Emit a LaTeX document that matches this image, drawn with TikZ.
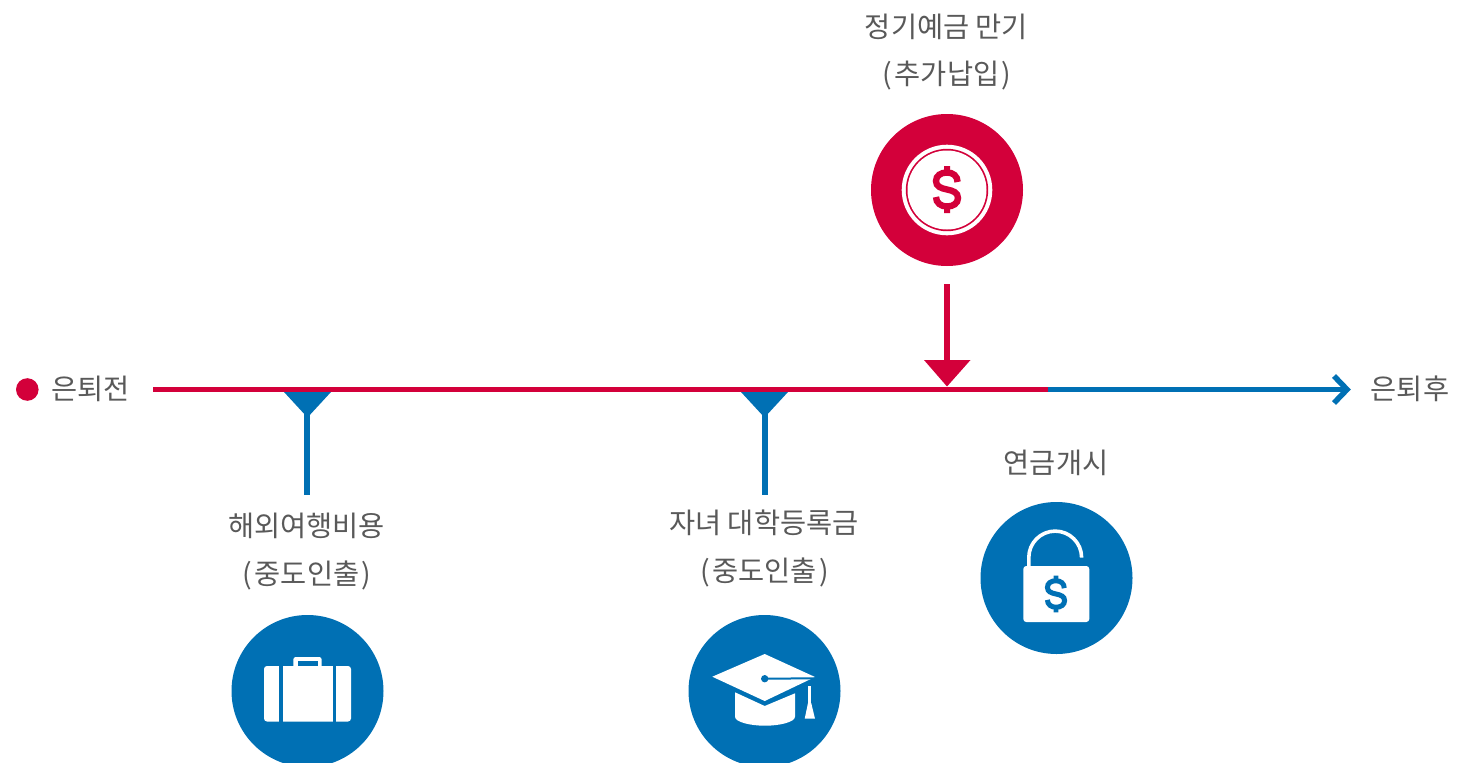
\documentclass[tikz,border=0pt]{standalone}
\usepackage{fontspec}
\setmainfont{Noto Sans CJK KR}
\definecolor{myred}{HTML}{D3003A}
\definecolor{myblue}{HTML}{0070B4}
\definecolor{mytext}{HTML}{595959}
\newcommand{\lp}{(\hspace{2.5pt}}
\newcommand{\rp}{\hspace{2.5pt})}
\tikzset{
  x=1pt,y=-1pt,
  label text/.style={text=mytext,font=\fontsize{28.4}{30}\selectfont,inner sep=0,text height=21,text depth=5,anchor=center},
  badge/.style={circle,inner sep=0,minimum size=152,fill=#1},
  shaft/.style={draw=#1,line width=6},
  timeline/.style={draw=#1,line width=5.4},
  pics/dollar/.style 2 args={code={
    \draw[#1,line width=#2,line cap=butt]
      (10.6,-7.5) .. controls (10.6,-13.5) and (6,-17) .. (0,-17)
      .. controls (-6,-17) and (-11,-14) .. (-11,-8.5)
      .. controls (-11,-3) and (-6,-1.2) .. (0,0)
      .. controls (6,1.2) and (11,3) .. (11,8.5)
      .. controls (11,14) and (6,17) .. (0,17)
      .. controls (-6,17) and (-11,13.5) .. (-11,7.5);
    \fill[#1] (-3,-23.5) rectangle (3,-17) (-3,17) rectangle (3,23.5);
  }}
}
\begin{document}
\begin{tikzpicture}
\useasboundingbox (0,0) rectangle (1470,763);
% timeline
\coordinate (lineStart) at (153,389.5);
\coordinate (lineMid) at (1048,389.5);
\coordinate (lineEnd) at (1345,389.5);
\draw[timeline=myred] (lineStart) -- (lineMid);
\draw[timeline=myblue] (lineMid) -- (lineEnd);
\coordinate (chevA) at (1334,376);
\coordinate (chevB) at (1347,389.5);
\coordinate (chevC) at (1334,403);
\draw[myblue,line width=5.5,miter limit=4] (chevA) -- (chevB) -- (chevC);
\node[circle,fill=myred,inner sep=0,minimum size=22.6] (startDot) at (27.3,389.5) {};
\node[label text] (before) at (90.5,391) {은퇴전};
\node[label text] (after) at (1410,391) {은퇴후};
% red deposit
\node[label text] (depositA) at (946.5,29.5) {정기예금 만기};
\node[label text] (depositB) at (947,76.5) {\lp 추가납입\rp};
\node[badge=myred] (coin) at (947,190) {};
\fill[white] (coin.center) circle (45.3);
\fill[myred] (coin.center) circle (41.2);
\fill[white] (coin.center) circle (39.5);
\pic at (947,189.5) {dollar={myred}{6.4}};
\coordinate (redTop) at (947,284);
\coordinate (redHead) at (947,361);
\draw[shaft=myred] (redTop) -- (redHead);
\fill[myred] (924,360) -- (970.5,360) -- (947,386.5) -- cycle;
% travel
\coordinate (travelTop) at (307,408);
\coordinate (travelEnd) at (307,495);
\fill[myblue] (284,392) -- (331,392) -- (307.5,417.5) -- cycle;
\draw[shaft=myblue] (travelTop) -- (travelEnd);
\node[label text] (travelA) at (306.5,528.5) {해외여행비용};
\node[label text] (travelB) at (307,576.5) {\lp 중도인출\rp};
\node[badge=myblue] (travel) at (307.5,691) {};
\fill[white,rounded corners=3] (264,666) rectangle (351,721.5);
\fill[white,rounded corners=2.5] (293.3,657) rectangle (321.7,668);
\fill[myblue] (297.7,661) rectangle (317.7,666);
\fill[myblue] (278.7,666) rectangle (282.5,721.5);
\fill[myblue] (332.7,666) rectangle (336.4,721.5);
% tuition
\coordinate (tuitionTop) at (765,408);
\coordinate (tuitionEnd) at (765,495);
\fill[myblue] (741,392) -- (788,392) -- (764.5,417.5) -- cycle;
\draw[shaft=myblue] (tuitionTop) -- (tuitionEnd);
\node[label text] (tuitionA) at (764,525.5) {자녀 대학등록금};
\node[label text] (tuitionB) at (764.5,573.5) {\lp 중도인출\rp};
\node[badge=myblue] (tuition) at (764.5,691) {};
\fill[white] (735,692.3) -- (764.7,706) -- (795,693.3) -- (795,716.7)
  .. controls (795,722) and (780,725.7) .. (765,725.7)
  .. controls (750,725.7) and (735,722) .. (735,716.7) -- cycle;
\fill[white] (712.3,676.7) -- (764.7,654) -- (815,677) -- (764.7,701) -- cycle;
\fill[myblue] (764.7,678.7) circle (3.7);
\draw[myblue,line width=2] (764.7,678.7) -- (815,678.3);
\draw[white,line width=2.6] (809.6,686) -- (809.6,704);
\fill[white] (808,703) -- (811.2,703) -- (815,718.7) -- (804.7,718.7) -- cycle;
% pension
\node[label text] (pension) at (1056,465.5) {연금개시};
\node[badge=myblue] (lock) at (1056.5,578) {};
\fill[white,rounded corners=3] (1023.3,566) rectangle (1089.3,622);
\draw[white,line width=3.6] (1028.8,567) -- (1028.8,557.5) arc[start angle=180,end angle=360,radius=26.4] -- (1081.6,556.7);
\pic[scale=.78] at (1056,594) {dollar={myblue}{5}};
\end{tikzpicture}
\end{document}
